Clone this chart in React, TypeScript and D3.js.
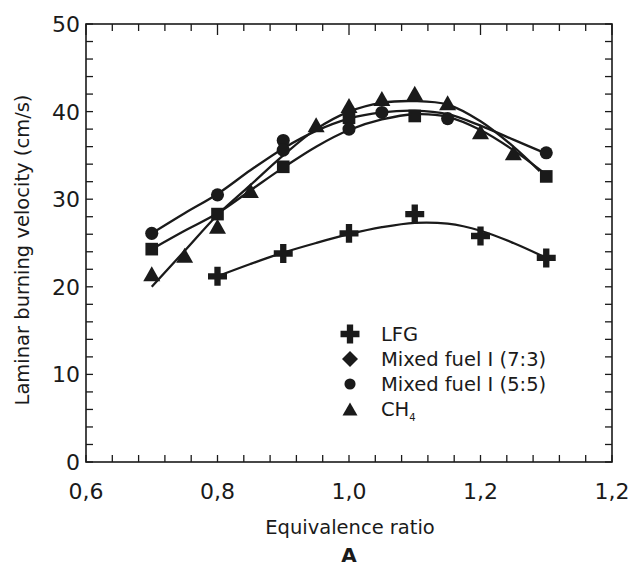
import React from "react";
import * as d3 from "d3";

const W = 628;
const H = 567;

const phiLFG = [0.8, 0.9, 1.0, 1.1, 1.2, 1.3];
const slLFG = [21.2, 23.8, 26.1, 28.3, 25.8, 23.3];

const phiMix73 = [0.7, 0.8, 0.9, 1.0, 1.1, 1.3];
const slMix73 = [24.3, 28.3, 33.7, 39.3, 39.5, 32.6];

const phiMix55 = [0.7, 0.8, 0.9, 0.9, 1.0, 1.05, 1.15, 1.3];
const slMix55 = [26.1, 30.5, 36.7, 35.6, 38.0, 39.9, 39.2, 35.3];

const phiCH4 = [0.7, 0.75, 0.8, 0.85, 0.95, 1.0, 1.05, 1.1, 1.15, 1.2, 1.25];
const slCH4 = [21.5, 23.6, 26.9, 31.0, 38.5, 40.7, 41.5, 42.1, 41.0, 37.7, 35.3];

// Trend curves
const fitPhiLFG = [0.8, 0.85, 0.9, 0.95, 1.0, 1.05, 1.1, 1.15, 1.2, 1.25, 1.3];
const fitSlLFG = [21.2, 22.6, 23.9, 25.0, 26.0, 26.8, 27.3, 27.2, 26.4, 25.0, 23.3];

const fitPhiMix73 = [0.7, 0.75, 0.8, 0.85, 0.9, 0.95, 1.0, 1.05, 1.1, 1.15, 1.2, 1.25, 1.3];
const fitSlMix73 = [24.3, 26.4, 28.4, 31.0, 33.6, 36.0, 37.9, 39.1, 39.7, 39.4, 37.9, 35.6, 32.8];

const fitPhiMix55 = [0.7, 0.75, 0.8, 0.85, 0.9, 0.95, 1.0, 1.05, 1.1, 1.15, 1.2, 1.25, 1.3];
const fitSlMix55 = [26.1, 28.4, 30.6, 33.3, 35.8, 37.8, 39.2, 39.9, 40.1, 39.7, 38.4, 36.8, 35.2];

const fitPhiCH4 = [0.7, 0.75, 0.8, 0.85, 0.9, 0.95, 1.0, 1.05, 1.1, 1.15, 1.2, 1.25, 1.29];
const fitSlCH4 = [20.0, 24.1, 28.2, 31.6, 35.0, 38.0, 40.0, 41.0, 41.2, 40.8, 38.9, 36.0, 33.2];

const xMajorTicks = [0.6, 0.8, 1.0, 1.2, 1.4];
const xTickLabels = ["0,6", "0,8", "1,0", "1,2", "1,2"];
const yMajorTicks = [0, 10, 20, 30, 40, 50];
const legendLabels = ["LFG", "Mixed fuel I (7:3)", "Mixed fuel I (5:5)", "CH"];

const FONT = "'DejaVu Sans', 'Noto Sans', sans-serif";
const INK = "#1a1a1a";

export default function App() {
  const x = d3.scaleLinear().domain([0.6, 1.4]).range([86, 612]);
  const y = d3.scaleLinear().domain([0, 50]).range([462, 24]);
  const [x0, x1] = x.range();
  const [y0, y1] = y.range();

  const xMinor = d3.range(0, 21).map((i) => 0.6 + i * 0.04);
  const yMinor = d3.range(0, 26).map((i) => i * 2);

  const curves = [
    { xs: fitPhiLFG, ys: fitSlLFG },
    { xs: fitPhiMix73, ys: fitSlMix73 },
    { xs: fitPhiMix55, ys: fitSlMix55 },
    { xs: fitPhiCH4, ys: fitSlCH4 },
  ];
  const line = d3
    .line<[number, number]>()
    .x((d) => x(d[0]))
    .y((d) => y(d[1]))
    .curve(d3.curveCatmullRom.alpha(0.5));

  const crossPath = d3.symbol(d3.symbolCross, 200)();
  const squarePath = d3.symbol(d3.symbolSquare, 160)();
  const circlePath = d3.symbol(d3.symbolCircle, 135)();
  const tri = (cx: number, cy: number, w: number, h: number) =>
    `M${cx - w / 2},${cy + h / 2}L${cx + w / 2},${cy + h / 2}L${cx},${cy - h / 2}Z`;
  const diamond = (cx: number, cy: number, r: number) =>
    `M${cx},${cy - r}L${cx + r},${cy}L${cx},${cy + r}L${cx - r},${cy}Z`;

  const legendX = 350;
  const legendY = [334, 359, 384, 409];

  return (
    <svg width={W} height={H} style={{ display: "block", position: "absolute", left: 0, top: 0 }}>
      <rect width={W} height={H} fill="#fff" />
      {/* frame */}
      <rect x={x0} y={y1} width={x1 - x0} height={y0 - y1} fill="none" stroke={INK} strokeWidth={1.6} />
      {/* ticks */}
      {xMinor.map((t, i) => {
        const major = xMajorTicks.some((m) => Math.abs(m - t) < 1e-6);
        return (
          <g key={"xt" + i} stroke={INK} strokeWidth={1.3}>
            <line x1={x(t)} x2={x(t)} y1={y0} y2={y0 - 7} />
            <line x1={x(t)} x2={x(t)} y1={y1} y2={y1 + (major ? 11 : 7)} />
          </g>
        );
      })}
      {yMinor.map((t, i) => (
        <g key={"yt" + i} stroke={INK} strokeWidth={1.3}>
          <line x1={x0} x2={x0 + 7} y1={y(t)} y2={y(t)} />
          <line x1={x1} x2={x1 - 7} y1={y(t)} y2={y(t)} />
        </g>
      ))}
      {/* tick labels */}
      {xMajorTicks.map((t, i) => (
        <text key={"xl" + i} x={x(t)} y={499} textAnchor="middle" fontFamily={FONT} fontSize={22} fill={INK}>
          {xTickLabels[i]}
        </text>
      ))}
      {yMajorTicks.map((t, i) => (
        <text key={"yl" + i} x={80} y={y(t)} dy="0.36em" textAnchor="end" fontFamily={FONT} fontSize={22} fill={INK}>
          {t}
        </text>
      ))}
      {/* axis titles */}
      <text x={350} y={534} textAnchor="middle" fontFamily={FONT} fontSize={19.5} fill={INK}>
        Equivalence ratio
      </text>
      <text x={349} y={562} textAnchor="middle" fontFamily={FONT} fontSize={20} fontWeight="bold" fill={INK}>
        A
      </text>
      <text
        transform={`translate(29,250) rotate(-90)`}
        textAnchor="middle"
        fontFamily={FONT}
        fontSize={19.5}
        fill={INK}
      >
        Laminar burning velocity (cm/s)
      </text>
      {/* trend curves */}
      {curves.map((c, i) => (
        <path
          key={"fit" + i}
          d={line(c.xs.map((v, k) => [v, c.ys[k]] as [number, number])) || ""}
          fill="none"
          stroke={INK}
          strokeWidth={2.3}
        />
      ))}
      {/* markers */}
      {phiLFG.map((p, i) => (
        <path key={"m1" + i} d={crossPath || ""} transform={`translate(${x(p)},${y(slLFG[i])})`} fill={INK} />
      ))}
      {phiMix73.map((p, i) => (
        <path key={"m2" + i} d={squarePath || ""} transform={`translate(${x(p)},${y(slMix73[i])})`} fill={INK} />
      ))}
      {phiMix55.map((p, i) => (
        <path key={"m3" + i} d={circlePath || ""} transform={`translate(${x(p)},${y(slMix55[i])})`} fill={INK} />
      ))}
      {phiCH4.map((p, i) => (
        <path key={"m4" + i} d={tri(x(p), y(slCH4[i]), 17, 15)} fill={INK} />
      ))}
      {/* legend */}
      <path d={crossPath || ""} transform={`translate(${legendX},${legendY[0]})`} fill={INK} />
      <path d={diamond(legendX, legendY[1], 8)} fill={INK} />
      <path d={circlePath || ""} transform={`translate(${legendX},${legendY[2]}) scale(0.85)`} fill={INK} />
      <path d={tri(legendX, legendY[3], 15, 13)} fill={INK} />
      {legendLabels.map((l, i) => (
        <text key={"lg" + i} x={381} y={legendY[i]} dy="0.36em" fontFamily={FONT} fontSize={19.5} fill={INK}>
          {l}
          {i === 3 ? (
            <tspan fontSize={10} dy="0.45em">
              4
            </tspan>
          ) : null}
        </text>
      ))}
    </svg>
  );
}
